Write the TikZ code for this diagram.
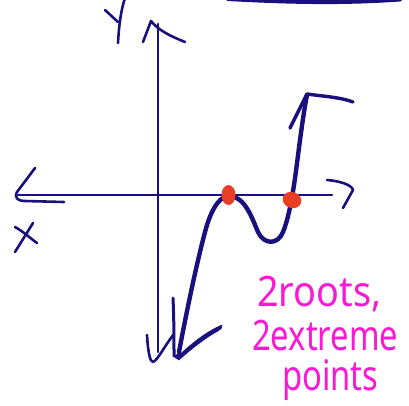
\documentclass[tikz,border=0pt]{standalone}
\usepackage{fontspec}
\usetikzlibrary{shapes.geometric}
\setmainfont{Noto Sans}
\definecolor{ink}{RGB}{25,15,125}
\definecolor{dotred}{RGB}{232,62,38}
\definecolor{pinkink}{RGB}{250,25,210}
\tikzset{
  axis/.style={ink, line width=2.6pt, line cap=round, line join=round},
  curvestroke/.style={ink, line width=4.4pt, line cap=round, line join=round},
  handtext/.style={pinkink, inner sep=0pt, font=\fontsize{42}{42}\selectfont, anchor=base west},
  rootdot/.style={fill=dotred, draw=none, ellipse, inner sep=0pt}
}
\begin{document}
\begin{tikzpicture}[x=1pt,y=-1pt]
\useasboundingbox (0,0) rectangle (409,405);
% top stroke (cut)
\draw[curvestroke, line width=4pt] (228,-1) .. controls (300,3) and (350,3) .. (400,-0.5);
% Y label
\draw[axis] (105,10) -- (118,22);
\draw[axis] (118,43) .. controls (119,25) and (121,10) .. (125,-2);
% Y axis
\coordinate (ytop) at (158,24);
\coordinate (ybot) at (158,352);
\draw[axis] (ytop) -- (ybot);
\draw[axis] (143,42) -- (151,21) .. controls (158,30) and (170,36) .. (185,42);
\draw[axis] (147,335) .. controls (148,352) and (150,362) .. (153,362) .. controls (158,360) and (165,345) .. (174,334);
% X axis
\coordinate (xl) at (18,195);
\coordinate (xr) at (332,195);
\draw[axis] (xl) -- (xr);
\draw[axis] (35,168) -- (17,192) .. controls (14,198) and (18,201) .. (25,201) -- (64,202);
\draw[axis] (327,180) .. controls (340,181) and (352,185) .. (353,190) -- (343,208);
% X label
\draw[axis] (15,227) .. controls (24,232) and (30,238) .. (37,243);
\draw[axis] (33,223) -- (15,252);
% curve
\coordinate (cbot) at (179,352);
\coordinate (ctop) at (307,95);
\draw[curvestroke] (cbot) .. controls (185,320) and (195,270) .. (205,232)
  .. controls (212,205) and (222,195) .. (230,196)
  .. controls (245,197) and (252,218) .. (258,232)
  .. controls (264,245) and (278,245) .. (283,232)
  .. controls (292,210) and (296,170) .. (300,140)
  .. controls (303,118) and (305,105) .. (ctop);
% bottom arrowhead
\draw[axis, line width=3pt] (173,298) .. controls (174,320) and (174,340) .. (174,356);
\draw[ink, line width=0.5pt, fill=ink] (176,358) .. controls (190,345) and (205,332) .. (222,325)
  .. controls (223,327) and (221,329) .. (218,331) .. controls (205,338) and (190,350) .. (179,360) -- cycle;
\draw[axis, line width=3.5pt] (176,357) -- (180,354);
% top arrowhead
\draw[axis, line width=3.4pt] (290,128) -- (307,94) .. controls (320,96) and (340,97) .. (353,102);
% root dots
\node[rootdot, minimum width=14pt, minimum height=20pt] (r1) at (228.5,195) {};
\node[rootdot, minimum width=19pt, minimum height=16pt, rotate=-20] (r2) at (292,200) {};
% text
\node[handtext, xscale=0.9] (t1) at (257,306) {2roots,};
\node[handtext, xscale=0.78] (t2) at (252,350) {2extreme};
\node[handtext, xscale=0.78] (t3) at (282,390) {points};
\end{tikzpicture}
\end{document}
